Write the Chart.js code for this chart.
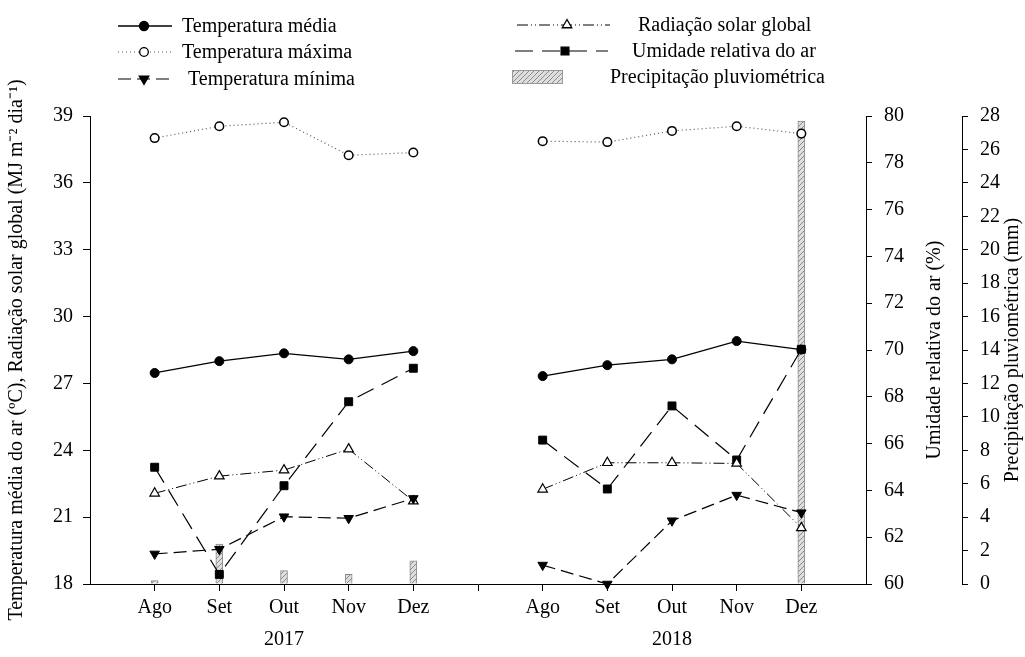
<!DOCTYPE html>
<html>
<head>
<meta charset="utf-8">
<script src="https://cdn.jsdelivr.net/npm/chart.js@4/dist/chart.umd.min.js"></script>
<style>
html,body{margin:0;padding:0;background:#fff;}
#wrap{width:1025px;height:657px;position:relative;}
</style>
</head>
<body>
<div id="wrap"><canvas id="c" width="1025" height="657"></canvas></div>
<script>
// ---- data ----
const categories = ['', 'Ago', 'Set', 'Out', 'Nov', 'Dez', '', 'Ago', 'Set', 'Out', 'Nov', 'Dez', ''];
const yearLabels = ['', '', '', '2017', '', '', '', '', '', '2018', '', '', ''];
const tempMedia   = [null, 27.47, 28.00, 28.35, 28.08, 28.45, null, 27.33, 27.82, 28.08, 28.90, 28.52, null];
const tempMaxima  = [null, 38.01, 38.54, 38.72, 37.24, 37.36, null, 37.87, 37.83, 38.33, 38.54, 38.21, null];
const tempMinima  = [null, 19.35, 19.56, 21.02, 20.95, 21.84, null, 18.85, 18.00, 20.84, 21.99, 21.20, null];
const radiacao    = [null, 22.07, 22.84, 23.11, 24.05, 21.72, null, 22.25, 23.44, 23.44, 23.41, 20.52, null];
const umidade     = [null, 64.99, 60.41, 64.20, 67.79, 69.22, null, 66.15, 64.06, 67.61, 65.30, 70.03, null];
const precipitacao= [null, 0.20, 2.39, 0.80, 0.58, 1.39, null, 0, 0, 0, 0, 27.7, null];
const leftTicks = [18, 21, 24, 27, 30, 33, 36, 39];
const humTicks = [60, 62, 64, 66, 68, 70, 72, 74, 76, 78, 80];
const precTicks = [0, 2, 4, 6, 8, 10, 12, 14, 16, 18, 20, 22, 24, 26, 28];

const FONT = "'Liberation Serif', 'Times New Roman', Times, serif";
Chart.defaults.font.family = FONT;
Chart.defaults.font.size = 20;
Chart.defaults.color = '#000';

function hatch() {
  const c = document.createElement('canvas');
  c.width = 5; c.height = 5;
  const g = c.getContext('2d');
  g.fillStyle = '#dedede'; g.fillRect(0, 0, 5, 5);
  g.strokeStyle = '#8a8a8a'; g.lineWidth = 1;
  g.beginPath();
  g.moveTo(0, 5); g.lineTo(5, 0);
  g.moveTo(-1, 1); g.lineTo(1, -1);
  g.moveTo(4, 6); g.lineTo(6, 4);
  g.stroke();
  return g.createPattern(c, 'repeat');
}
const hatchPattern = hatch();

function drawMarker(ctx, style, x, y, r, fill) {
  ctx.save();
  ctx.setLineDash([]);
  ctx.lineWidth = 1.3;
  ctx.strokeStyle = '#000';
  ctx.fillStyle = fill;
  ctx.beginPath();
  if (style === 'circle') {
    ctx.arc(x, y, r, 0, Math.PI * 2);
  } else if (style === 'rect') {
    const s = r * Math.SQRT1_2;
    ctx.rect(x - s, y - s, 2 * s, 2 * s);
  } else if (style === 'triUp') {
    ctx.moveTo(x, y - r);
    ctx.lineTo(x + r * 0.866, y + r * 0.5);
    ctx.lineTo(x - r * 0.866, y + r * 0.5);
    ctx.closePath();
  } else if (style === 'triDown') {
    ctx.moveTo(x, y + r);
    ctx.lineTo(x + r * 0.866, y - r * 0.5);
    ctx.lineTo(x - r * 0.866, y - r * 0.5);
    ctx.closePath();
  }
  ctx.fill();
  ctx.stroke();
  ctx.restore();
}

const legendPlugin = {
  id: 'customLegend',
  afterDraw(chart) {
    const ctx = chart.ctx;
    const ds = chart.data.datasets;
    const rows = [
      {i: 0, x0: 118, x1: 172, mx: 144, y: 26, tx: 182, marker: 'circle', r: 4.5, fill: '#000'},
      {i: 1, x0: 118, x1: 172, mx: 144, y: 52, tx: 182, marker: 'circle', r: 4.3, fill: '#fff'},
      {i: 2, x0: 118, x1: 172, mx: 144, y: 79, tx: 188, marker: 'triDown', r: 5.5, fill: '#000'},
      {i: 3, x0: 517, x1: 610, mx: 567, y: 25, tx: 638, marker: 'triUp', r: 5.5, fill: '#fff'},
      {i: 4, x0: 515, x1: 608, mx: 565, y: 51, tx: 632, marker: 'rect', r: 5.5, fill: '#000'}
    ];
    ctx.save();
    ctx.font = '20px ' + FONT;
    ctx.textBaseline = 'middle';
    ctx.fillStyle = '#000';
    rows.forEach(rw => {
      const d = ds[rw.i];
      ctx.save();
      ctx.strokeStyle = d.borderColor;
      ctx.lineWidth = d.borderWidth;
      ctx.setLineDash(d.borderDash || []);
      ctx.beginPath();
      ctx.moveTo(rw.x0, rw.y);
      ctx.lineTo(rw.x1, rw.y);
      ctx.stroke();
      ctx.restore();
      drawMarker(ctx, rw.marker, rw.mx, rw.y, rw.r, rw.fill);
      ctx.fillText(d.label, rw.tx, rw.y + 1);
    });
    const pd = ds[5];
    ctx.fillStyle = hatchPattern;
    ctx.fillRect(512, 70, 50, 13);
    ctx.strokeStyle = '#999';
    ctx.lineWidth = 1;
    ctx.strokeRect(512.5, 70.5, 50, 13);
    ctx.fillStyle = '#000';
    ctx.fillText(pd.label, 610, 78);

    // right-hand axis titles, reading bottom-to-top like the reference
    const cy = (chart.chartArea.top + chart.chartArea.bottom) / 2;
    const sc = chart.options.scales;
    [[sc.yH.title.text, chart.scales.yH.left + 69], [sc.yP.title.text, chart.scales.yP.left + 51]].forEach(([t, x]) => {
      ctx.save();
      ctx.translate(x, cy);
      ctx.rotate(-Math.PI / 2);
      ctx.textAlign = 'center';
      ctx.textBaseline = 'middle';
      ctx.fillStyle = '#000';
      ctx.fillText(t, 0, 0);
      ctx.restore();
    });
    ctx.restore();
  }
};

const tickColor = c => (c.index === 0 || c.index === categories.length - 1) ? 'rgba(0,0,0,0)' : '#000';

new Chart(document.getElementById('c'), {
  data: {
    labels: categories,
    datasets: [
      {type: 'line', label: 'Temperatura média', data: tempMedia, yAxisID: 'y',
       borderColor: '#000', borderWidth: 1.3, pointStyle: 'circle', pointRadius: 4.5,
       pointBackgroundColor: '#000', pointBorderColor: '#000', pointBorderWidth: 1, order: 1, clip: false},
      {type: 'line', label: 'Temperatura máxima', data: tempMaxima, yAxisID: 'y',
       borderColor: '#555', borderWidth: 1.2, borderDash: [1, 3], pointStyle: 'circle', pointRadius: 4.3,
       pointBackgroundColor: '#fff', pointBorderColor: '#000', pointBorderWidth: 1.5, order: 1, clip: false},
      {type: 'line', label: 'Temperatura mínima', data: tempMinima, yAxisID: 'y',
       borderColor: '#000', borderWidth: 1.2, borderDash: [13, 6], pointStyle: 'triangle', pointRotation: 180,
       pointRadius: 5.5, pointBackgroundColor: '#000', pointBorderColor: '#000', pointBorderWidth: 1, order: 1, clip: false},
      {type: 'line', label: 'Radiação solar global', data: radiacao, yAxisID: 'y',
       borderColor: '#000', borderWidth: 1, borderDash: [11, 3, 1, 3, 1, 3], pointStyle: 'triangle',
       pointRadius: 5.5, pointBackgroundColor: '#fff', pointBorderColor: '#000', pointBorderWidth: 1.2, order: 1, clip: false},
      {type: 'line', label: 'Umidade relativa do ar', data: umidade, yAxisID: 'yH',
       borderColor: '#000', borderWidth: 1.2, borderDash: [18, 9], pointStyle: 'rect',
       pointRadius: 5.6, pointBackgroundColor: '#000', pointBorderColor: '#000', pointBorderWidth: 1, order: 1, clip: false},
      {type: 'bar', label: 'Precipitação pluviométrica', data: precipitacao, yAxisID: 'yP',
       backgroundColor: hatchPattern, borderColor: '#8a8a8a', borderWidth: 1, barThickness: 7, order: 10}
    ]
  },
  options: {
    responsive: false,
    animation: false,
    events: [],
    layout: {padding: {top: 116, left: 0, right: 0, bottom: 5}},
    plugins: {legend: {display: false}, tooltip: {enabled: false}},
    scales: {
      x: {
        type: 'category', position: 'bottom', offset: false,
        grid: {drawOnChartArea: false, drawTicks: true, tickLength: 7, color: tickColor, offset: false},
        border: {display: true, color: '#000', width: 1},
        ticks: {autoSkip: false, maxRotation: 0, minRotation: 0, padding: 5, font: {size: 20}},
        afterFit: s => { s.height = 37; }
      },
      xYear: {
        type: 'category', position: 'bottom', offset: false, labels: yearLabels,
        grid: {display: false, drawTicks: false},
        border: {display: false},
        ticks: {autoSkip: false, maxRotation: 0, minRotation: 0, padding: 7, font: {size: 20}},
        afterFit: s => { s.height = 31; }
      },
      y: {
        position: 'left', min: 18, max: 39,
        afterBuildTicks: s => { s.ticks = leftTicks.map(v => ({value: v})); },
        grid: {drawOnChartArea: false, drawTicks: true, tickLength: 7, color: '#000'},
        border: {display: true, color: '#000', width: 1},
        ticks: {padding: 10, font: {size: 20}},
        title: {display: true, text: 'Temperatura média do ar (ºC), Radiação solar global (MJ m⁻² dia⁻¹)',
                font: {size: 20}, padding: {top: 5, bottom: 15}},
        afterFit: s => { s.width = 90; }
      },
      yH: {
        position: 'right', min: 60, max: 80, weight: 0,
        afterBuildTicks: s => { s.ticks = humTicks.map(v => ({value: v})); },
        grid: {drawOnChartArea: false, drawTicks: true, tickLength: 6, color: '#000'},
        border: {display: true, color: '#000', width: 1},
        ticks: {padding: 12, font: {size: 20}},
        title: {display: false, text: 'Umidade relativa do ar (%)'},
        afterFit: s => { s.width = 96; }
      },
      yP: {
        position: 'right', min: 0, max: 28, weight: 1,
        afterBuildTicks: s => { s.ticks = precTicks.map(v => ({value: v})); },
        grid: {drawOnChartArea: false, drawTicks: true, tickLength: 6, color: '#000'},
        border: {display: true, color: '#000', width: 1},
        ticks: {padding: 12, font: {size: 20}},
        title: {display: false, text: 'Precipitação pluviométrica (mm)'},
        afterFit: s => { s.width = 63; }
      }
    }
  },
  plugins: [legendPlugin]
});
</script>
</body>
</html>
